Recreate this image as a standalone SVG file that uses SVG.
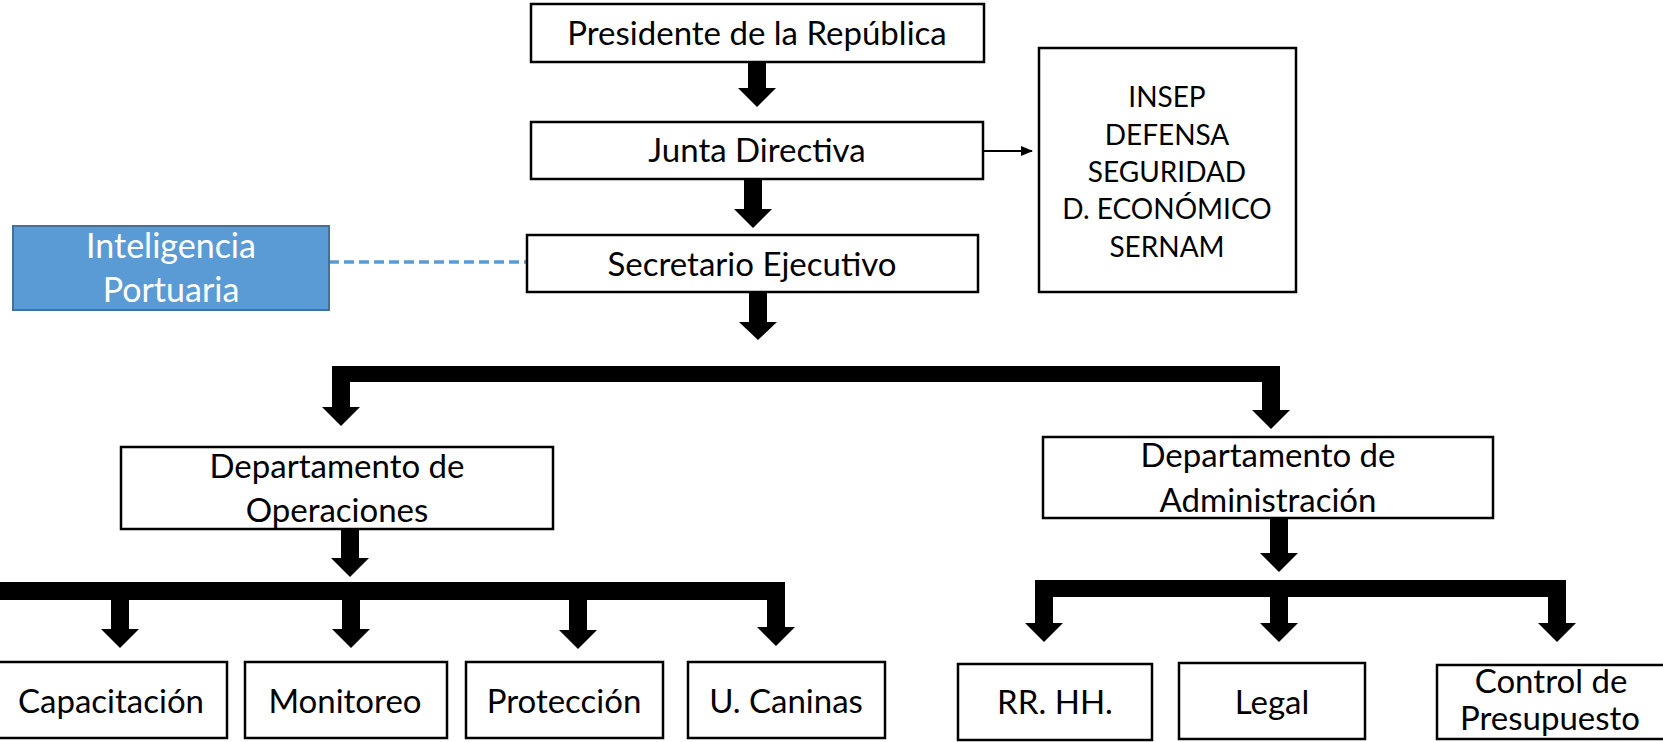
<svg xmlns="http://www.w3.org/2000/svg" width="1663" height="742" viewBox="0 0 1663 742">
<defs>
<style>
.box{fill:#fff;stroke:#000;stroke-width:2.5}
.blue{fill:#5B9BD5;stroke:#41719C;stroke-width:2}
.t{font-family:Lato,"Liberation Sans",sans-serif;font-size:33px;fill:#000;text-anchor:middle}
.ts{font-family:Lato,"Liberation Sans",sans-serif;font-size:28px;fill:#000;text-anchor:middle}
.tw{fill:#fff;font-size:34px}
.blk{fill:#000;stroke:none}
</style>
<marker id="ah" markerWidth="12" markerHeight="10" refX="11" refY="5" orient="auto" markerUnits="userSpaceOnUse">
<path d="M0,0 L12,5 L0,10 Z" fill="#000"/>
</marker>
</defs>
<g id="connectors">
<path class="blk" d="M748,62 H766 V88 H776 L757,107 L738,88 H748 Z"/>
<path class="blk" d="M744,179 H762 V209 H772 L753,228 L734,209 H744 Z"/>
<path class="blk" d="M749,292 H767 V322 H777 L758,340 L739,322 H749 Z"/>
<line x1="983" y1="151" x2="1032" y2="151" stroke="#000" stroke-width="2" marker-end="url(#ah)"/>
<line x1="329" y1="262" x2="527" y2="262" stroke="#5B9BD5" stroke-width="3.5" stroke-dasharray="10 5"/>
<path class="blk" d="M332,366 H1280 V410 H1290 L1271,429 L1252,410 H1262 V382 H350 V407 H360 L341,426 L322,407 H332 Z"/>
<path class="blk" d="M341,529 H359 V558 H369 L350,577 L331,558 H341 Z"/>
<rect class="blk" x="0" y="582" width="785" height="18"/>
<path class="blk" d="M111,598 H129 V629 H139 L120,648 L101,629 H111 Z"/>
<path class="blk" d="M342,598 H360 V629 H370 L351,648 L332,629 H342 Z"/>
<path class="blk" d="M569,598 H587 V630 H597 L578,649 L559,630 H569 Z"/>
<path class="blk" d="M767,598 H785 V627 H795 L776,646 L757,627 H767 Z"/>
<path class="blk" d="M1270,518 H1288 V553 H1298 L1279,572 L1260,553 H1270 Z"/>
<rect class="blk" x="1035" y="580" width="531" height="17"/>
<path class="blk" d="M1035,595 H1053 V623 H1063 L1044,642 L1025,623 H1035 Z"/>
<path class="blk" d="M1270,595 H1288 V623 H1298 L1279,642 L1260,623 H1270 Z"/>
<path class="blk" d="M1548,595 H1566 V623 H1576 L1557,642 L1538,623 H1548 Z"/>
</g>
<g id="presidente">
<rect class="box" x="531" y="4" width="453" height="58"/>
<text class="t" x="757" y="45">Presidente de la República</text>
</g>
<g id="junta">
<rect class="box" x="531" y="122" width="452" height="57"/>
<text class="t" x="757" y="162">Junta Directiva</text>
</g>
<g id="secretario">
<rect class="box" x="527" y="235" width="451" height="57"/>
<text class="t" x="752" y="276">Secretario Ejecutivo</text>
</g>
<g id="insep">
<rect class="box" x="1039" y="48" width="257" height="244"/>
<text class="ts" x="1167" y="107">INSEP</text>
<text class="ts" x="1167" y="145">DEFENSA</text>
<text class="ts" x="1167" y="182">SEGURIDAD</text>
<text class="ts" x="1167" y="219">D. ECONÓMICO</text>
<text class="ts" x="1167" y="257">SERNAM</text>
</g>
<g id="inteligencia">
<rect class="blue" x="13" y="226" width="316" height="84"/>
<text class="t tw" x="171" y="258">Inteligencia</text>
<text class="t tw" x="171" y="302">Portuaria</text>
</g>
<g id="operaciones">
<rect class="box" x="121" y="447" width="432" height="82"/>
<text class="t" x="337" y="478">Departamento de</text>
<text class="t" x="337" y="522">Operaciones</text>
</g>
<g id="administracion">
<rect class="box" x="1043" y="437" width="450" height="81"/>
<text class="t" x="1268" y="467">Departamento de</text>
<text class="t" x="1268" y="512">Administración</text>
</g>
<g id="capacitacion">
<rect class="box" x="-3" y="662" width="230" height="76"/>
<text class="t" x="111" y="713">Capacitación</text>
</g>
<g id="monitoreo">
<rect class="box" x="245" y="662" width="202" height="76"/>
<text class="t" x="345" y="713">Monitoreo</text>
</g>
<g id="proteccion">
<rect class="box" x="466" y="662" width="197" height="76"/>
<text class="t" x="564" y="713">Protección</text>
</g>
<g id="caninas">
<rect class="box" x="688" y="662" width="197" height="76"/>
<text class="t" x="786" y="713">U. Caninas</text>
</g>
<g id="rrhh">
<rect class="box" x="958" y="664" width="194" height="76"/>
<text class="t" x="1055" y="714">RR. HH.</text>
</g>
<g id="legal">
<rect class="box" x="1179" y="663" width="186" height="76"/>
<text class="t" x="1272" y="714">Legal</text>
</g>
<g id="control">
<rect class="box" x="1437" y="665" width="240" height="74"/>
<text class="t" x="1551" y="693">Control de</text>
<text class="t" x="1550" y="730">Presupuesto</text>
</g>
</svg>
